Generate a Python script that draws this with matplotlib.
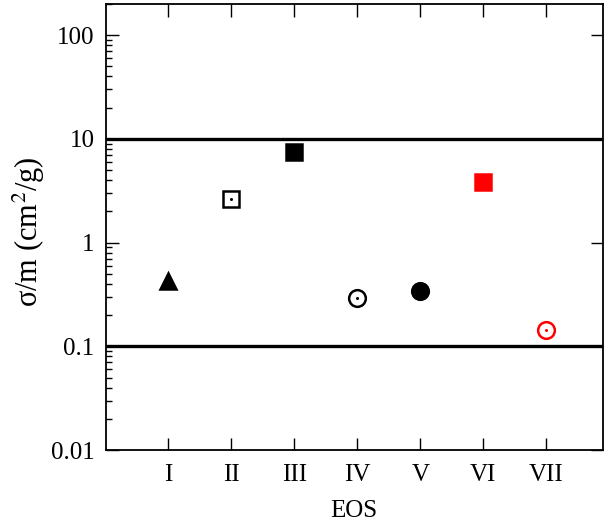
import numpy as np
import matplotlib
matplotlib.use("Agg")
import matplotlib.pyplot as plt
from matplotlib.ticker import LogLocator, NullFormatter

plt.rcParams["font.family"] = ["Liberation Serif", "STIXGeneral"]
plt.rcParams["mathtext.fontset"] = "stix"

# data
eos = ["I", "II", "III", "IV", "V", "VI", "VII"]
pos = [1, 2, 3, 4, 5, 6, 7]
sigma_m = [0.425, 2.62, 7.55, 0.29, 0.342, 3.83, 0.144]
markers = ["^", "s", "s", "o", "o", "s", "o"]
filled = [True, False, True, False, True, True, False]
colors = ["black", "black", "black", "black", "black", "red", "red"]
dotted = [False, True, False, True, False, False, True]
bounds = [0.1, 10]

fig = plt.figure(figsize=(6.05, 5.27), dpi=100)
ax = fig.add_axes([0.1744, 0.1461, 0.8223, 0.8463])

for b in bounds:
    ax.axhline(b, color="black", lw=2.4, zorder=1)

for x, y, m, f, c, d in zip(pos, sigma_m, markers, filled, colors, dotted):
    ms = 12 if m != "^" else 11
    ax.plot(x, y, marker=m, ms=ms, mfc=c if f else "white", mec=c,
            mew=1.8, ls="none", zorder=3)
    if d:
        ax.plot(x, y, marker="o", ms=2.2, mfc=c, mec=c, mew=0, ls="none", zorder=4)

ax.set_yscale("log")
ax.set_ylim(0.01, 200)
ax.set_xlim(0, 7.9)
ax.set_xticks(pos)
ax.set_xticklabels(eos)
ax.set_yticks([0.01, 0.1, 1, 10, 100])
ax.set_yticklabels(["0.01", "0.1", "1", "10", "100"])
ax.yaxis.set_minor_locator(LogLocator(base=10, subs=np.arange(2, 10)))
ax.yaxis.set_minor_formatter(NullFormatter())

ax.tick_params(which="both", direction="in", top=True, right=True, labelsize=18, width=1)
ax.tick_params(which="major", length=9, pad=10)
ax.tick_params(axis="y", which="major", pad=8)
ax.tick_params(which="minor", length=4.5, right=False)
for s in ax.spines.values():
    s.set_linewidth(1.3)

ax.set_xlabel("EOS", fontsize=18, labelpad=10)
ax.set_ylabel(r"σ/m (cm$^2$/g)", fontsize=22)
ax.yaxis.set_label_coords(-0.118, 0.49)

fig.savefig("out.png", dpi=100)
